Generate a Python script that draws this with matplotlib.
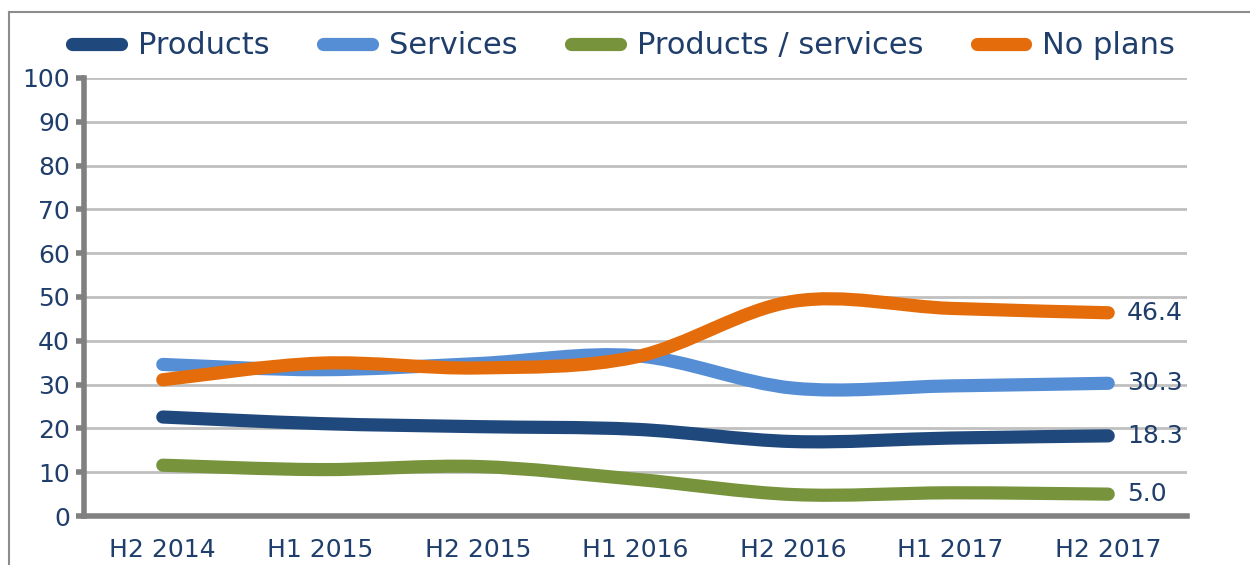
import numpy as np
import matplotlib.pyplot as plt
from matplotlib.path import Path
from matplotlib.patches import PathPatch
from matplotlib.lines import Line2D

# categories and series
periods = ['H2 2014', 'H1 2015', 'H2 2015', 'H1 2016', 'H2 2016', 'H1 2017', 'H2 2017']
products = [22.6, 21.1, 20.4, 19.8, 17.0, 17.8, 18.3]
services = [34.6, 33.4, 34.8, 36.6, 29.2, 29.7, 30.3]
prod_serv = [11.6, 10.6, 11.3, 8.4, 4.9, 5.3, 5.0]
no_plans = [31.1, 34.9, 33.8, 36.3, 49.0, 47.4, 46.4]

names = ['Products', 'Services', 'Products / services', 'No plans']
colors = ['#1F497D', '#558ED5', '#77933C', '#E46C0A']
series = [products, services, prod_serv, no_plans]
txt_col = '#1F3E6B'

plt.rcParams['font.family'] = ['DejaVu Sans']


def smooth_path(xs, ys):
    # excel style smoothed line: bezier through the points
    pts = np.column_stack([xs, ys]).astype(float)
    n = len(pts)
    verts = [pts[0]]
    codes = [Path.MOVETO]
    for i in range(n - 1):
        p0 = pts[i - 1] if i > 0 else pts[i]
        p1 = pts[i]
        p2 = pts[i + 1]
        p3 = pts[i + 2] if i + 2 < n else pts[i + 1]
        c1 = p1 + (p2 - p0) / 6.0
        c2 = p2 - (p3 - p1) / 6.0
        verts += [c1, c2, p2]
        codes += [Path.CURVE4] * 3
    return Path(verts, codes)


fig = plt.figure(figsize=(12.5, 5.65), dpi=100)
ax = fig.add_axes([0.0672, 0.0867, 0.8824, 0.7753])

x = np.arange(len(periods))
for vals, c in zip(series, colors):
    pp = PathPatch(smooth_path(x, vals), facecolor='none', edgecolor=c,
                   lw=9.5, capstyle='round', joinstyle='round', zorder=3)
    ax.add_patch(pp)
    ax.text(x[-1] + 0.12, vals[-1], '%.1f' % vals[-1], color=txt_col,
            fontsize=18, va='center', ha='left', zorder=4)

ax.set_xlim(-0.5, len(periods) - 0.5)
ax.set_ylim(0, 100)
ax.set_yticks(range(0, 101, 10))
ax.set_xticks(x)
ax.set_xticklabels(periods)
ax.yaxis.grid(True, color='#C0C0C0', lw=2)
ax.set_axisbelow(True)
for s in ['top', 'right']:
    ax.spines[s].set_visible(False)
for s in ['left', 'bottom']:
    ax.spines[s].set_color('#808080')
    ax.spines[s].set_linewidth(4)
ax.tick_params(axis='y', colors='#808080', length=6, width=4, labelcolor=txt_col,
               labelsize=18, pad=4)
ax.tick_params(axis='x', length=0, labelcolor=txt_col, labelsize=18, pad=16)

handles = [Line2D([], [], color=c, lw=9.5, solid_capstyle='round') for c in colors]
leg = fig.legend(handles, names, loc='center', bbox_to_anchor=(0.499, 0.919), ncol=4,
                 frameon=False, fontsize=22, handlelength=1.6, handletextpad=0.55,
                 columnspacing=1.75, borderaxespad=0)
for t in leg.get_texts():
    t.set_color(txt_col)

# chart border, cropped on the right and bottom
fx = 8.5 / 1250
fy = 1 - 11.5 / 565
fig.add_artist(Line2D([fx, 1.02], [fy, fy], transform=fig.transFigure, color='#8C8C8C', lw=1.5))
fig.add_artist(Line2D([fx, fx], [-0.02, fy], transform=fig.transFigure, color='#8C8C8C', lw=1.5))

fig.savefig('out.png', dpi=100)
